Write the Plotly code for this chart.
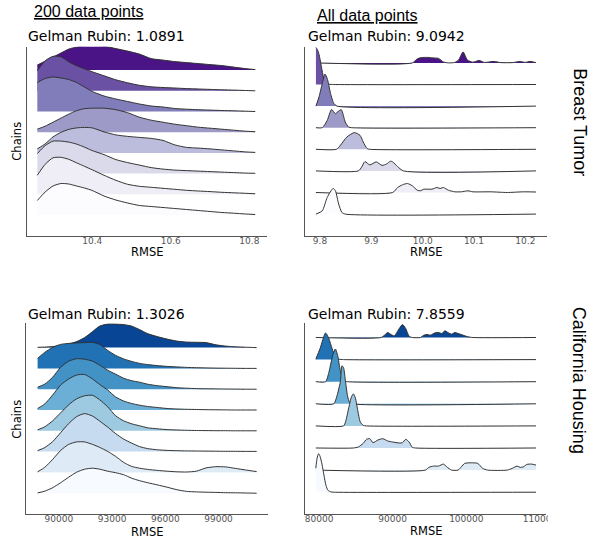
import plotly.graph_objects as go

W, H = 600, 541

PURPLES = ['#4a1486', '#6a51a3', '#807dba', '#9e9ac8', '#bcbddc', '#dadaeb', '#efedf5', '#fcfbfd']
BLUES = ['#084594', '#2171b5', '#4292c6', '#6baed6', '#9ecae1', '#c6dbef', '#deebf7', '#f7fbff']

# ---------- Breast Tumor, 200 data points (shared RMSE grid, density per chain, top chain first)
bt200_rmse = [10.26, 10.28, 10.30, 10.32, 10.34, 10.36, 10.38, 10.40, 10.43, 10.46, 10.49, 10.52,
              10.55, 10.58, 10.61, 10.64, 10.67, 10.70, 10.73, 10.76, 10.79, 10.815]
bt200_density = [
    [5, 9, 13, 17, 21, 23, 24.5, 25, 24, 21.5, 19, 16, 11.5, 10, 8.5, 7.5, 6.5, 5.5, 4.5, 3, 1.5, 0.5],
    [20, 30, 34.5, 34, 29, 25, 22, 19, 15, 11, 8, 5.5, 4, 3.3, 2.8, 2.2, 1.8, 1.4, 1, 0.7, 0.3, 0],
    [29, 33, 34.5, 33.5, 32, 29, 24.5, 20, 15.5, 12.5, 10, 7.5, 5.5, 4.5, 3, 2.3, 1.8, 1.4, 1, 0.7, 0.3, 0],
    [3, 6, 10, 14, 18, 21.5, 23.5, 24, 24, 22.5, 19.5, 15, 12, 10, 8, 6.5, 5, 4, 3, 2, 1, 0.5],
    [4, 9, 16, 20.5, 23.5, 25, 25.5, 25, 21, 18, 16.5, 15.5, 14.5, 12.5, 8, 5.5, 4.8, 4, 3, 2, 1, 0.5],
    [20, 28, 32.5, 32.5, 31.5, 29.5, 26.5, 23, 19, 14, 11, 8.5, 6, 4.5, 3.5, 3, 2.5, 2, 1.5, 1, 0.5, 0.3],
    [19, 30, 36.5, 37, 35, 31.5, 28, 24.5, 19, 14, 10, 8, 7, 6, 5, 4, 3.3, 2.7, 2, 1.5, 1, 0.5],
    [14.5, 23, 29, 31.5, 31, 29, 27, 24.5, 19, 15, 12, 9.5, 8.5, 7.5, 6.5, 5.5, 4.5, 3.5, 2.5, 1.8, 1, 0.5],
]
bt200_ticks = [10.4, 10.6, 10.8]

# ---------- Breast Tumor, all data points (per-chain RMSE samples and density)
btall_rmse = [
    [9.792, 9.9797, 9.9893, 9.997, 10.01, 10.02, 10.031, 10.040, 10.050, 10.0625, 10.070, 10.0786,
     10.087, 10.0977, 10.110, 10.120, 10.139, 10.152, 10.175, 10.190, 10.1996, 10.209, 10.2206],
    [9.792, 9.7948, 9.7981, 9.8019, 9.8048, 9.8076, 9.8115, 9.8172, 9.8268, 10.2206],
    [9.792, 9.7981, 9.8044, 9.8096, 9.814, 9.8205, 9.8268, 9.8331, 10.2206],
    [9.792, 9.8044, 9.814, 9.8224, 9.830, 9.8363, 9.8415, 9.8491, 9.8555, 9.8618, 10.2206],
    [9.792, 9.832, 9.8396, 9.8522, 9.8669, 9.8778, 9.8841, 9.8918, 9.8969, 10.2206],
    [9.792, 9.8746, 9.8809, 9.8874, 9.897, 9.9096, 9.9208, 9.930, 9.9371, 9.9415, 9.9511, 9.9625, 10.2206],
    [9.792, 9.9415, 9.9511, 9.9606, 9.9702, 9.9797, 9.9893, 9.9956, 10.0021, 10.018, 10.0275, 10.0338,
     10.0403, 10.0499, 10.0625, 10.0753, 10.0881, 10.0977, 10.1327, 10.1646, 10.1964, 10.2206],
    [9.792, 9.8044, 9.814, 9.8254, 9.830, 9.8363, 9.8426, 9.8491, 10.2206],
]
btall_density = [
    [0, 0, 4, 5.3, 5.5, 5, 4.5, 1, 0, 0.5, 3, 11, 3, 0.7, 2.5, 0.5, 1.5, 0.3, 0.3, 1.5, 0.5, 1.5, 0.3],
    [37, 35, 30, 20, 12, 5, 1.5, 0.3, 0, 0],
    [0, 9.3, 22.7, 32, 27.7, 12.7, 2.7, 0, 0],
    [0, 0, 7.3, 18.3, 14, 16.7, 18, 5.7, 0.7, 0, 0],
    [0, 0, 4, 12.3, 16.7, 14, 7.3, 0.7, 0, 0],
    [0, 0, 3.7, 9.3, 6, 9, 5.5, 7, 9.7, 9, 4.3, 0, 0],
    [0, 0, 5, 7.7, 9, 6.7, 2.3, 1.7, 3.3, 3.3, 5, 4, 5, 2.3, 0.7, 0.7, 1.7, 0.7, 0.7, 0, 0.7, 0.5],
    [0, 3.3, 16.7, 25.7, 23.3, 10, 1.7, 0, 0],
]
btall_ticks = [9.8, 9.9, 10.0, 10.1, 10.2]

# ---------- California Housing, 200 data points
ch200_rmse = [88800, 89200, 89650, 90100, 90550, 91000, 91450, 91900, 92300, 92750, 93200, 93650, 94100,
              94550, 95000, 95550, 96100, 96650, 97200, 97750, 98300, 98850, 99400, 99950, 100500, 101150]
ch200_density = [
    [0.3, 0.5, 1, 2, 3.5, 6, 10, 16, 21.5, 23.5, 23.5, 23, 21.5, 18, 14, 11, 8.5, 6.5, 5.5, 5.3, 5, 2.8, 1.5, 0.8, 0.4, 0],
    [10, 16, 21, 24, 25, 25.5, 25.8, 26, 24, 18, 13, 9.5, 7, 5, 3.8, 2.8, 2, 1.5, 1, 0.7, 0.5, 0.3, 0.2, 0.1, 0, 0],
    [2, 5, 12, 22, 28, 30.5, 30, 28, 24, 19, 15, 11, 8.5, 7, 5, 3.5, 2.5, 1.5, 1, 0.6, 0.4, 0.3, 0.2, 0.1, 0, 0],
    [1.5, 6, 15, 25, 31, 35, 35.5, 31, 25.5, 20, 13, 9, 6.5, 4.8, 3.5, 2.5, 1.5, 1, 0.7, 0.5, 0.3, 0.2, 0.1, 0, 0, 0],
    [1, 4, 10, 18, 26, 32, 35, 35.5, 31, 24, 15, 10, 7, 5, 3, 2, 1.2, 0.8, 0.5, 0.3, 0.2, 0.1, 0.1, 0, 0, 0],
    [1, 4, 10, 19, 28, 35, 38, 35.5, 30.5, 24.5, 18, 12.5, 8.5, 5, 3, 1.8, 1.2, 0.9, 0.7, 0.6, 0.5, 0.4, 0.3, 0.3, 0.2, 0.2],
    [0.6, 5, 13, 22, 28, 30.5, 30.5, 28, 25, 21, 16, 10, 6, 4.2, 3, 2, 1.2, 0.6, 0.4, 1.2, 4.5, 5.7, 5.5, 4, 2.5, 0.8],
    [0.3, 2, 5.5, 10.5, 16, 21, 24, 25, 24, 22, 20.5, 18.5, 15, 12.5, 10.5, 8.3, 6, 3.5, 1.8, 1.3, 1, 0.8, 0.5, 0.4, 0.2, 0],
]
ch200_ticks = [90000, 93000, 96000, 99000]

# ---------- California Housing, all data points
chall_rmse = [
    [79560, 88440, 88893, 89333, 89773, 90227, 90893, 91333, 91773, 92227, 92667, 93773, 94227, 94667,
     95107, 95773, 96227, 96667, 97107, 97560, 98000, 98440, 98893, 99560, 100227, 100893, 109467],
    [79560, 80133, 80893, 81333, 81773, 82227, 82667, 83333, 109467],
    [79560, 80893, 81333, 81907, 82227, 82533, 82893, 83333, 83867, 109467],
    [79560, 82000, 82440, 82893, 83107, 83333, 83600, 83867, 84133, 84400, 109467],
    [79560, 83333, 83600, 84000, 84400, 84667, 84933, 85267, 85600, 86000, 86400, 109467],
    [79560, 84667, 85333, 86000, 86440, 86893, 87333, 88000, 88667, 89333, 90000, 90893, 91333, 91773,
     92227, 92667, 93107, 109467],
    [79560, 94440, 94893, 95560, 96227, 96893, 97333, 98000, 98893, 99333, 99773, 100667, 101560, 102227,
     102893, 105560, 106227, 106893, 107333, 107773, 108227, 108893, 109467],
    [79560, 79733, 79933, 80133, 80400, 80667, 80933, 81200, 81600, 82000, 109467],
]
chall_density = [
    [0, 0, 2.3, 5, 3, 1.7, 9, 13, 9, 1.3, 0, 0, 2.3, 3, 2.3, 4.7, 5, 4, 6.7, 4.7, 3.3, 5, 4, 2.3, 0.7, 0, 0],
    [0.5, 11, 26.7, 21, 11, 2.7, 0.5, 0, 0],
    [0, 0, 9.3, 27.7, 32.7, 26, 11, 1, 0, 0],
    [0, 0, 8, 22, 38, 36, 22, 8, 1.5, 0, 0],
    [0, 0, 4, 17, 29, 32, 28, 15, 4, 0.5, 0, 0],
    [0, 0, 1, 4.7, 8.7, 9.3, 5.3, 8, 9.3, 7, 6, 5, 5.3, 8.7, 6, 0.7, 0, 0],
    [0, 0, 2.7, 4, 4, 6, 3.3, 0, 0, 3.3, 6.7, 7.3, 6.7, 1.7, 0, 0, 1.7, 4, 2.7, 3.3, 5.7, 6, 5],
    [24, 34, 38.5, 36, 28, 17, 7, 2, 0.3, 0, 0],
]
chall_ticks = [80000, 90000, 100000, 110000]

titles = ['Gelman Rubin: 1.0891', 'Gelman Rubin: 9.0942', 'Gelman Rubin: 1.3026', 'Gelman Rubin: 7.8559']
col_headers = ['200 data points', 'All data points']
row_labels = ['Breast Tumor', 'California Housing']

panels = [
    dict(xs=[bt200_rmse] * 8, hs=bt200_density, colors=PURPLES, xpx=(27, 272), ypx=(46.7, 235.7),
         unit=20.7, xrange=[10.2325, 10.845], ticks=bt200_ticks, fmt='.1f'),
    dict(xs=btall_rmse, hs=btall_density, colors=PURPLES, xpx=(311, 557), ypx=(46.7, 235.7),
         unit=21.6, xrange=[9.7713, 10.2417], ticks=btall_ticks, fmt='.1f'),
    dict(xs=[ch200_rmse] * 8, hs=ch200_density, colors=BLUES, xpx=(26.7, 272.7), ypx=(323.3, 514),
         unit=20.8, xrange=[88157, 101773], ticks=ch200_ticks, fmt='d'),
    dict(xs=chall_rmse, hs=chall_density, colors=BLUES, xpx=(311, 556.7), ypx=(323.3, 514.3),
         unit=22.1, xrange=[78133, 110893], ticks=chall_ticks, fmt='d'),
]

fig = go.Figure()
layout_axes = {}
for i, p in enumerate(panels, start=1):
    xa = 'x' if i == 1 else f'x{i}'
    ya = 'y' if i == 1 else f'y{i}'
    for k in range(8):
        base = 8 - k
        xs = p['xs'][k]
        hs = p['hs'][k]
        fig.add_trace(go.Scatter(x=xs, y=[base] * len(xs), mode='lines',
                                 line=dict(width=0, color='rgba(0,0,0,0)'),
                                 hoverinfo='skip', showlegend=False, xaxis=xa, yaxis=ya))
        fig.add_trace(go.Scatter(x=xs, y=[base + h / p['unit'] for h in hs], mode='lines',
                                 line=dict(color='#333333', width=1, shape='spline', smoothing=0.6),
                                 fill='tonexty', fillcolor=p['colors'][k],
                                 hoverinfo='skip', showlegend=False, xaxis=xa, yaxis=ya))
    xk = 'xaxis' if i == 1 else f'xaxis{i}'
    yk = 'yaxis' if i == 1 else f'yaxis{i}'
    layout_axes[xk] = dict(domain=[p['xpx'][0] / W, p['xpx'][1] / W], range=p['xrange'], anchor=ya,
                           showline=True, linecolor='#555555', linewidth=1, ticks='',
                           tickvals=p['ticks'], tickformat=p['fmt'], ticklabelstandoff=-4,
                           tickfont=dict(family='DejaVu Sans', size=9, color='#555555'),
                           showgrid=False, zeroline=False)
    layout_axes[yk] = dict(domain=[1 - p['ypx'][1] / H, 1 - p['ypx'][0] / H],
                           range=[0, (p['ypx'][1] - p['ypx'][0]) / p['unit']], anchor=xa,
                           showline=True, linecolor='#555555', linewidth=1, ticks='',
                           showticklabels=False, showgrid=False, zeroline=False)

ann = []
def A(text, xpx, ypx, size, family, xanchor='left', angle=0, color='#000000'):
    ann.append(dict(text=text, x=xpx / W, y=1 - ypx / H, xref='paper', yref='paper',
                    xanchor=xanchor, yanchor='middle', showarrow=False, textangle=angle,
                    font=dict(family=family, size=size, color=color)))

A('<u>' + col_headers[0] + '</u>', 33, 12, 16, 'Liberation Sans')
A('<u>' + col_headers[1] + '</u>', 320.5, 15, 16, 'Liberation Sans')
A(titles[0], 26.7, 35.5, 14, 'DejaVu Sans')
A(titles[1], 311.5, 35.5, 14, 'DejaVu Sans')
A(titles[2], 26.7, 314, 14, 'DejaVu Sans')
A(titles[3], 311.5, 314, 14, 'DejaVu Sans')
for p, yy in zip(panels, [252.3, 251.7, 531.7, 531.3]):
    A('RMSE', (p['xpx'][0] + p['xpx'][1]) / 2, yy, 11.5, 'DejaVu Sans', xanchor='center')
A('Chains', 17, 141, 11.5, 'DejaVu Sans', xanchor='center', angle=-90)
A('Chains', 17, 419, 11.5, 'DejaVu Sans', xanchor='center', angle=-90)
A(row_labels[0], 590, 122.5, 18, 'Liberation Sans', xanchor='center', angle=90)
A(row_labels[1], 590, 380, 18, 'Liberation Sans', xanchor='center', angle=90)

shapes = [dict(type='rect', xref='paper', yref='paper', x0=558 / W, x1=1, y0=1 - 532 / H, y1=1 - 515 / H,
               fillcolor='white', line=dict(width=0), layer='above')]

fig.update_layout(width=W, height=H, margin=dict(l=0, r=0, t=0, b=0),
                  paper_bgcolor='white', plot_bgcolor='white', showlegend=False,
                  annotations=ann, shapes=shapes, **layout_axes)

fig.write_html('out.html')
